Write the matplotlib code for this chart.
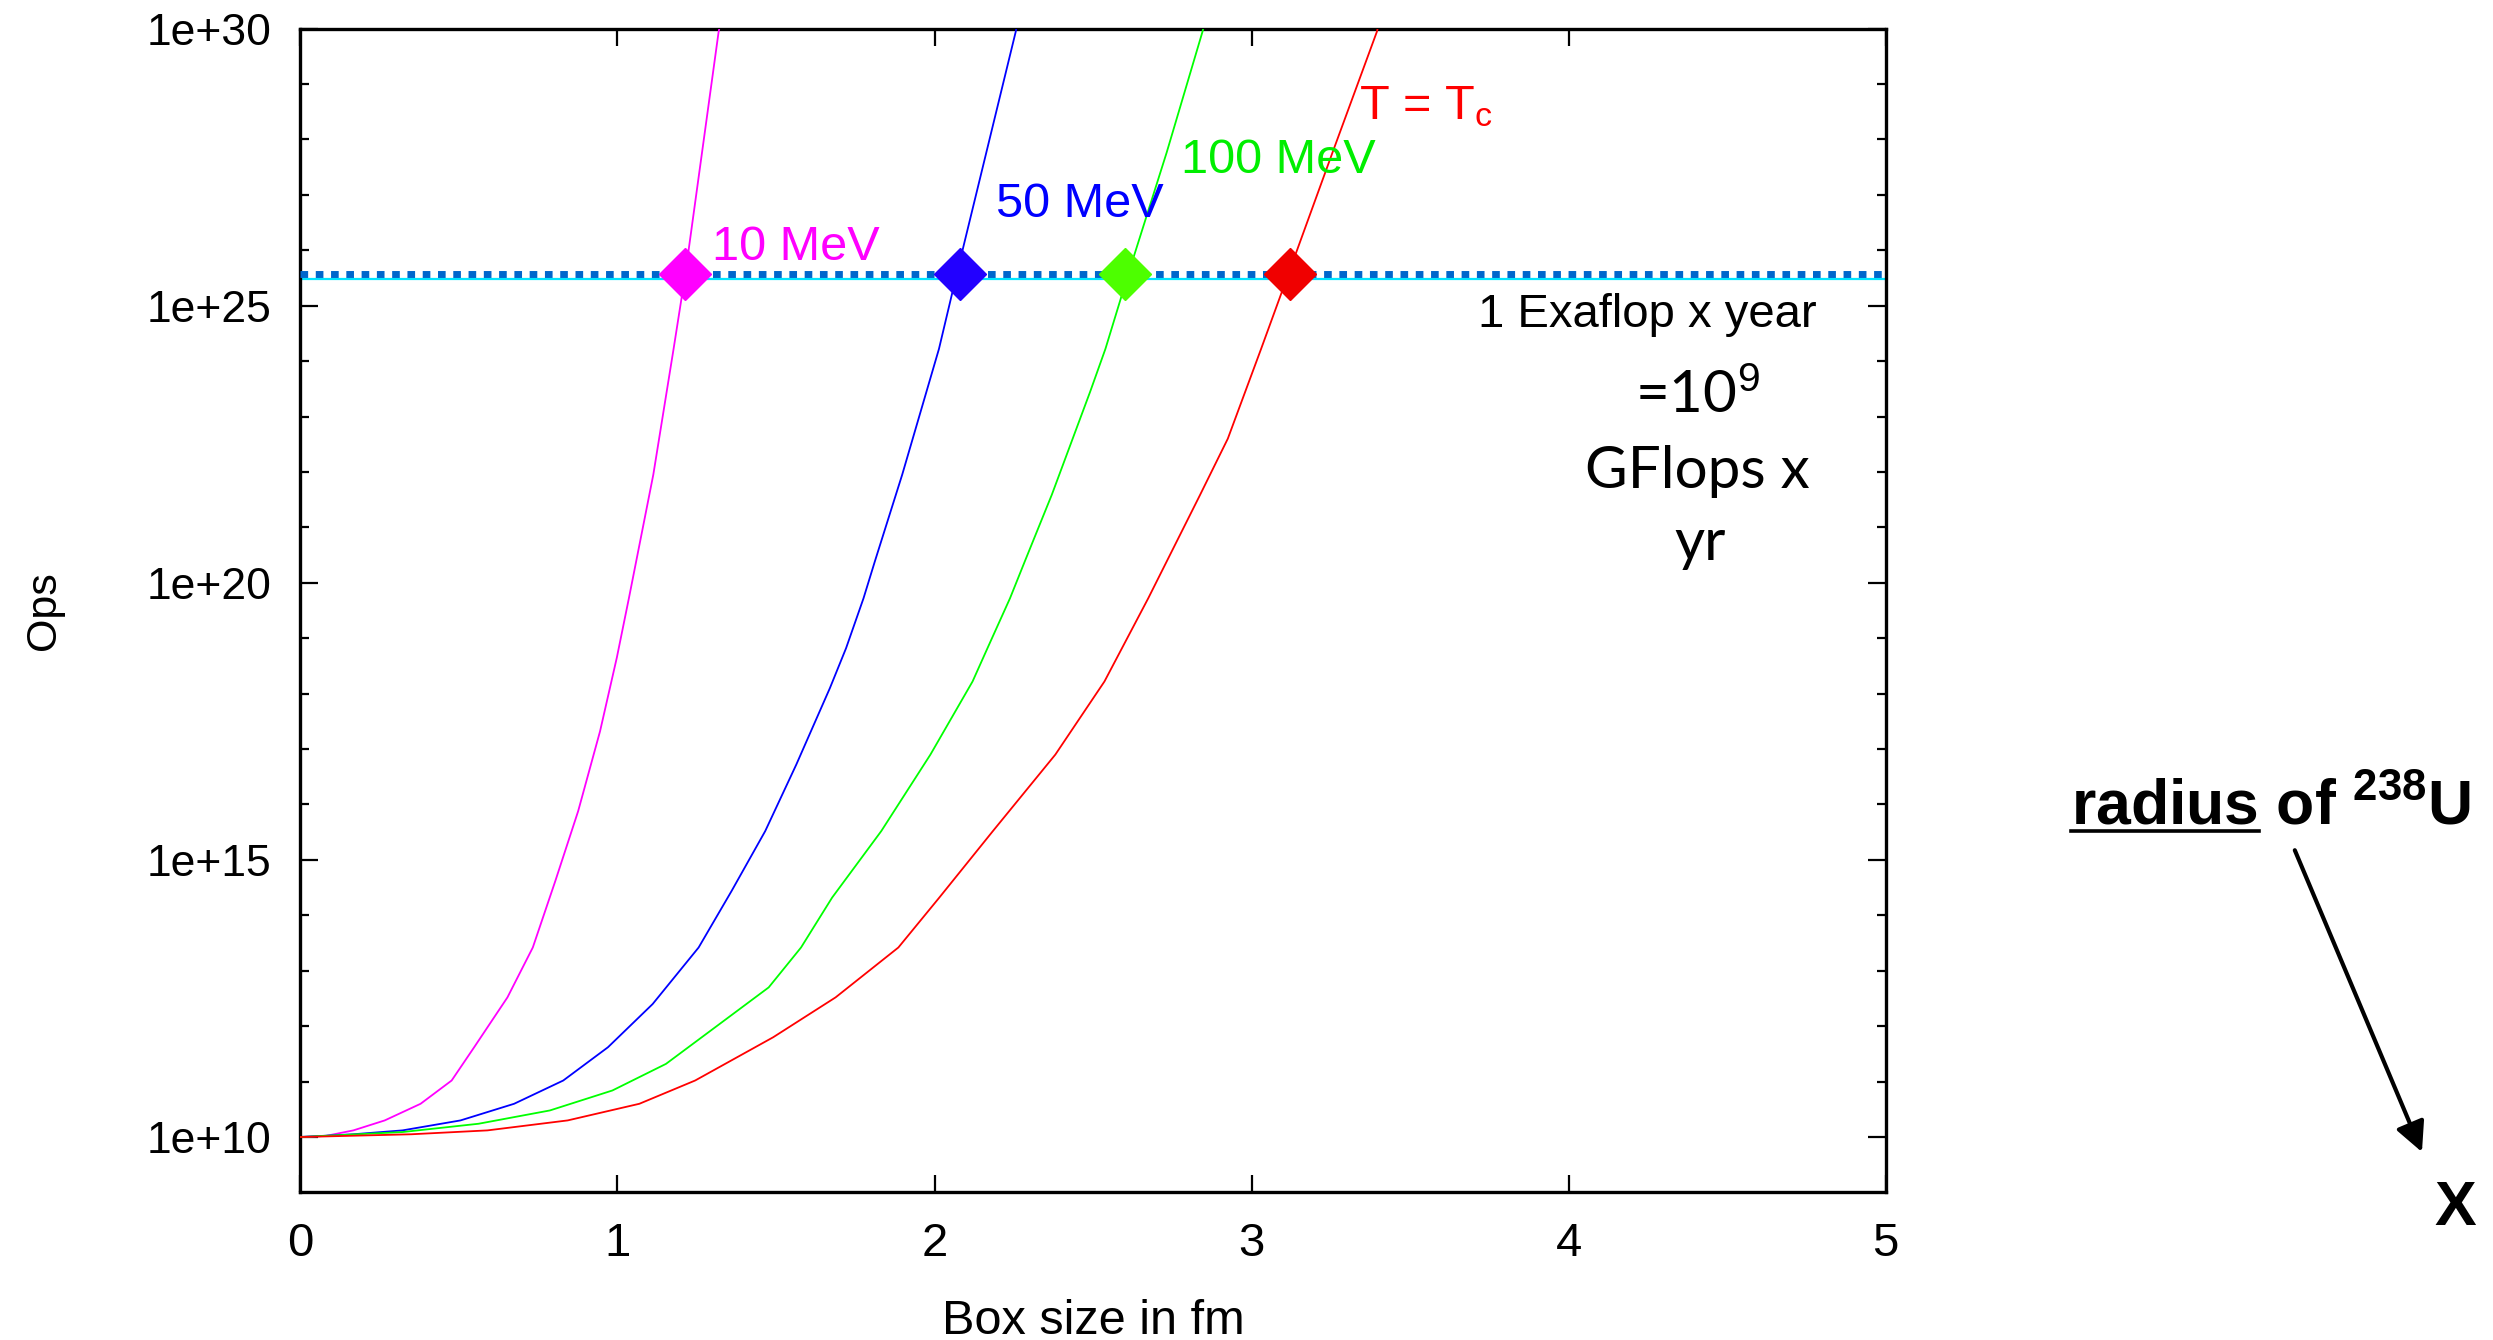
import matplotlib
matplotlib.use('Agg')
import matplotlib.pyplot as plt
import numpy as np
from matplotlib.ticker import FixedLocator, FixedFormatter, NullFormatter, NullLocator

# box size in fm and log10(Ops)
x_10mev = [0.0, 0.08, 0.167, 0.266, 0.379, 0.477, 0.548, 0.653, 0.733, 0.804, 0.876,
           0.945, 0.998, 1.036, 1.113, 1.177, 1.214, 1.319, 1.335]
log_10mev = [10.0, 10.02, 10.12, 10.30, 10.60, 11.02, 11.62, 12.52, 13.42, 14.62, 15.88,
             17.32, 18.65, 19.72, 21.95, 24.22, 25.57, 29.94, 30.4]

x_50mev = [0.0, 0.167, 0.322, 0.505, 0.674, 0.829, 0.970, 1.111, 1.256, 1.360, 1.466,
           1.564, 1.670, 1.721, 1.776, 1.812, 1.898, 2.014, 2.070, 2.256, 2.270]
log_50mev = [10.0, 10.05, 10.12, 10.30, 10.60, 11.02, 11.62, 12.40, 13.42, 14.44, 15.52,
             16.72, 18.10, 18.82, 19.72, 20.39, 21.95, 24.22, 25.57, 29.94, 30.4]

x_100mev = [0.0, 0.322, 0.562, 0.787, 0.984, 1.153, 1.294, 1.477, 1.579, 1.677, 1.832,
            1.987, 2.120, 2.167, 2.238, 2.285, 2.370, 2.491, 2.539, 2.611, 2.732, 2.845, 2.860]
log_100mev = [10.0, 10.09, 10.24, 10.48, 10.84, 11.32, 11.92, 12.70, 13.42, 14.32, 15.52,
              16.90, 18.22, 18.82, 19.72, 20.39, 21.59, 23.45, 24.22, 25.57, 27.76, 29.94, 30.3]

x_tc = [0.0, 0.350, 0.590, 0.843, 1.069, 1.245, 1.491, 1.688, 1.886, 2.015, 2.184,
        2.381, 2.536, 2.674, 2.837, 2.925, 3.030, 3.116, 3.255, 3.395, 3.410]
log_tc = [10.0, 10.05, 10.12, 10.30, 10.60, 11.02, 11.80, 12.52, 13.42, 14.32, 15.52,
          16.90, 18.22, 19.72, 21.58, 22.60, 24.22, 25.57, 27.76, 29.94, 30.3]

# 1 Exaflop x year line and the crossing markers
exaflop_dots = 3.7e25
exaflop_solid = 3.0e25
marker_x = [1.214, 2.080, 2.600, 3.121]
marker_colors = ['#ff00ff', '#2200ff', '#4dff00', '#f00000']

curve_colors = ['#ff00ff', '#0000ff', '#00ff00', '#ff0000']
x_ticks = [0, 1, 2, 3, 4, 5]
y_major = [1e10, 1e15, 1e20, 1e25, 1e30]
y_labels = ['1e+10', '1e+15', '1e+20', '1e+25', '1e+30']
y_minor = [10.0 ** k for k in range(11, 30) if k % 5 != 0]

plt.rcParams['font.family'] = ['Liberation Sans', 'DejaVu Sans']
plt.rcParams['mathtext.fontset'] = 'custom'
plt.rcParams['mathtext.rm'] = 'Liberation Sans'
plt.rcParams['mathtext.bf'] = 'Liberation Sans:bold'
plt.rcParams['mathtext.default'] = 'rm'

fig = plt.figure(figsize=(24.93, 13.40), dpi=100)
ax = fig.add_axes([0.1205, 0.1101, 0.6359, 0.8686])

curves = [(x_10mev, log_10mev), (x_50mev, log_50mev), (x_100mev, log_100mev), (x_tc, log_tc)]
for (xs, logs), c in zip(curves, curve_colors):
    ax.plot(xs, np.power(10.0, logs), color=c, lw=1.3, zorder=3)

ax.axhline(exaflop_solid, color='#00e5ff', lw=1.6, zorder=2)
ax.axhline(exaflop_dots, color='#0066cc', lw=5, linestyle=(0, (1.1, 1.1)),
           dash_capstyle='butt', zorder=4)
for mx, mc in zip(marker_x, marker_colors):
    ax.plot([mx], [exaflop_dots], marker='D', ms=26, color=mc, mec=mc, zorder=5)

ax.text(1.299, 10 ** 25.82, '10 MeV', color='#ff00ff', fontsize=35)
ax.text(2.193, 10 ** 26.60, '50 MeV', color='#0000ff', fontsize=35)
ax.text(2.777, 10 ** 27.40, '100 MeV', color='#00ee00', fontsize=35)
ax.text(3.340, 10 ** 28.37, r'T = T$_{\mathrm{c}}$', color='#ff0000', fontsize=35)
ax.text(3.713, 10 ** 24.61, '1 Exaflop x year', color='black', fontsize=34)

ax.set_xlim(0, 5)
ax.set_yscale('log')
ax.set_ylim(1e9, 1e30)
ax.set_xticks(x_ticks)
ax.set_xticklabels([str(t) for t in x_ticks])
ax.xaxis.set_minor_locator(NullLocator())
ax.yaxis.set_major_locator(FixedLocator(y_major))
ax.yaxis.set_major_formatter(FixedFormatter(y_labels))
ax.yaxis.set_minor_locator(FixedLocator(y_minor))
ax.yaxis.set_minor_formatter(NullFormatter())

ax.tick_params(which='both', direction='in', top=True, right=True, width=1.6)
ax.tick_params(axis='y', which='major', length=13, labelsize=32, pad=21)
ax.tick_params(axis='y', which='minor', length=6.5)
ax.tick_params(axis='x', which='major', length=12, labelsize=34, pad=21)
for s in ax.spines.values():
    s.set_linewidth(2.4)

ax.set_xlabel('Box size in fm', fontsize=35, labelpad=24)
ax.set_ylabel('Ops', fontsize=31)
ax.yaxis.set_label_coords(-0.149, 0.5)

# slide annotations
gill = ['Lato', 'DejaVu Sans']
fig.text(0.681, 0.6918, r'=10$^{9}$', family=gill, fontsize=42, ha='center', va='baseline')
fig.text(0.681, 0.6358, 'GFlops x', family=gill, fontsize=42, ha='center', va='baseline')
fig.text(0.6818, 0.5821, 'yr', family=gill, fontsize=42, ha='center', va='baseline')

rx, ry = 0.8309, 0.3851
fig.text(rx, ry, r'radius of $\mathbf{^{238}}$U', fontsize=45, fontweight='bold',
         ha='left', va='baseline')
word = fig.text(rx, ry, 'radius', fontsize=45, fontweight='bold', ha='left',
                va='baseline', alpha=0)
fig.canvas.draw()
bb = word.get_window_extent().transformed(fig.transFigure.inverted())
fig.add_artist(plt.Line2D([bb.x0, bb.x1], [0.3795, 0.3795], color='black', lw=2.6,
                          transform=fig.transFigure))

fig.text(0.9848, 0.0858, 'X', fontsize=45, fontweight='bold', ha='center', va='baseline')
ax.annotate('', xy=(0.9715, 0.1403), xytext=(0.9205, 0.3655),
            xycoords='figure fraction', textcoords='figure fraction',
            arrowprops=dict(arrowstyle='-|>', color='black', lw=3, mutation_scale=45,
                            shrinkA=0, shrinkB=0),
            annotation_clip=False)

fig.savefig('out.png', dpi=100)
plt.close('all')
